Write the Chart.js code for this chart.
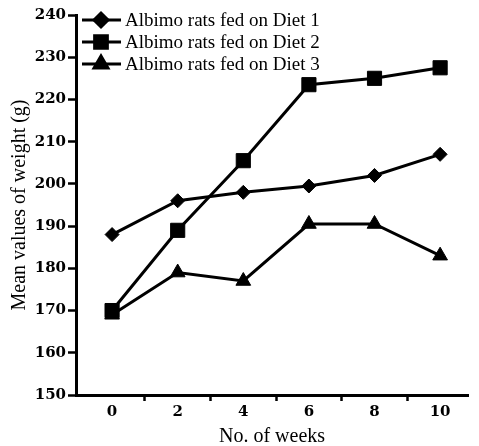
<!DOCTYPE html>
<html>
<head>
<meta charset="utf-8">
<style>
  html, body { margin: 0; padding: 0; background: #fff; }
  #wrap { width: 479px; height: 446px; }
</style>
<script src="https://cdn.jsdelivr.net/npm/chart.js@4.4.1/dist/chart.umd.min.js"></script>
</head>
<body>
<div id="wrap"><canvas id="chart" width="479" height="446"></canvas></div>
<script>
var weeks = [0, 2, 4, 6, 8, 10];
var diet1 = [188, 196, 198, 199.5, 202, 207];
var diet2 = [170, 189, 205.5, 223.5, 225, 227.5];
var diet3 = [169, 179, 177, 190.5, 190.5, 183];
var seriesNames = ["Albimo rats fed on Diet 1", "Albimo rats fed on Diet 2", "Albimo rats fed on Diet 3"];
var yTicks = [150, 160, 170, 180, 190, 200, 210, 220, 230, 240];

function pts(vals) {
    return weeks.map(function(w, i) { return { x: w, y: vals[i] }; });
}

// legend drawn inside the plot, line + marker like the original figure
var insideLegend = {
    id: 'insideLegend',
    afterDraw: function(chart) {
        var ctx = chart.ctx;
        ctx.save();
        chart.data.datasets.forEach(function(ds, i) {
            var y = 20 + i * 22;
            ctx.strokeStyle = '#000';
            ctx.lineWidth = 3;
            ctx.beginPath();
            ctx.moveTo(82, y);
            ctx.lineTo(121, y);
            ctx.stroke();
            ctx.fillStyle = '#000';
            Chart.helpers.drawPoint(ctx, {
                pointStyle: ds.pointStyle,
                radius: ds.legendRadius,
                borderWidth: 1
            }, 101, y);
            ctx.fillStyle = '#000';
            ctx.font = '19px "Liberation Serif"';
            ctx.textBaseline = 'middle';
            ctx.fillText(ds.label, 125, y + 1);
        });
        ctx.restore();
    }
};

var common = {
    borderColor: '#000',
    backgroundColor: '#000',
    pointBackgroundColor: '#000',
    pointBorderColor: '#000',
    borderWidth: 3,
    pointBorderWidth: 1,
    clip: false
};

new Chart(document.getElementById('chart').getContext('2d'), {
    type: 'line',
    data: {
        datasets: [
            Object.assign({ label: seriesNames[0], data: pts(diet1), pointStyle: 'rectRot', pointRadius: 7, legendRadius: 7 }, common),
            Object.assign({ label: seriesNames[1], data: pts(diet2), pointStyle: 'rect', pointRadius: 10, legendRadius: 9 }, common),
            Object.assign({ label: seriesNames[2], data: pts(diet3), pointStyle: 'triangle', pointRadius: 8.5, legendRadius: 8 }, common)
        ]
    },
    plugins: [insideLegend],
    options: {
        responsive: false,
        animation: false,
        layout: { padding: { top: 15, right: 0, left: 0, bottom: 0 } },
        plugins: {
            legend: { display: false },
            tooltip: { enabled: false }
        },
        scales: {
            x: {
                type: 'linear',
                min: -1.1,
                max: 10.85,
                afterFit: function(s) { s.height = 51; },
                afterBuildTicks: function(s) {
                    s.ticks = [0, 1, 2, 3, 4, 5, 6, 7, 8, 9, 10].map(function(v) { return { value: v }; });
                },
                border: { color: '#000', width: 3 },
                grid: {
                    drawOnChartArea: false,
                    tickLength: 6,
                    tickWidth: 2.5,
                    color: function(c) { return (c.tick && c.tick.value % 2 === 1) ? '#000' : 'rgba(0,0,0,0)'; }
                },
                ticks: {
                    color: '#000',
                    padding: 2,
                    autoSkip: false,
                    maxRotation: 0,
                    font: { family: 'DejaVu Serif', size: 15, weight: 'bold' },
                    callback: function(v) { return v % 2 === 0 ? String(v) : ''; }
                },
                title: {
                    display: true,
                    text: 'No. of weeks',
                    color: '#000',
                    padding: { top: 0, bottom: -3 },
                    font: { family: 'Liberation Serif', size: 20 }
                }
            },
            y: {
                min: 150,
                max: 240,
                afterFit: function(s) { s.width = 76; },
                afterBuildTicks: function(s) {
                    s.ticks = yTicks.map(function(v) { return { value: v }; });
                },
                border: { color: '#000', width: 3 },
                grid: {
                    drawOnChartArea: false,
                    tickLength: 8,
                    tickWidth: 2.5,
                    color: '#000'
                },
                ticks: {
                    color: '#000',
                    padding: 2,
                    font: { family: 'DejaVu Serif', size: 15, weight: 'bold' }
                },
                title: {
                    display: true,
                    text: 'Mean values of weight (g)',
                    color: '#000',
                    padding: { top: 8, bottom: 0 },
                    font: { family: 'Liberation Serif', size: 20 }
                }
            }
        }
    }
});
</script>
</body>
</html>
